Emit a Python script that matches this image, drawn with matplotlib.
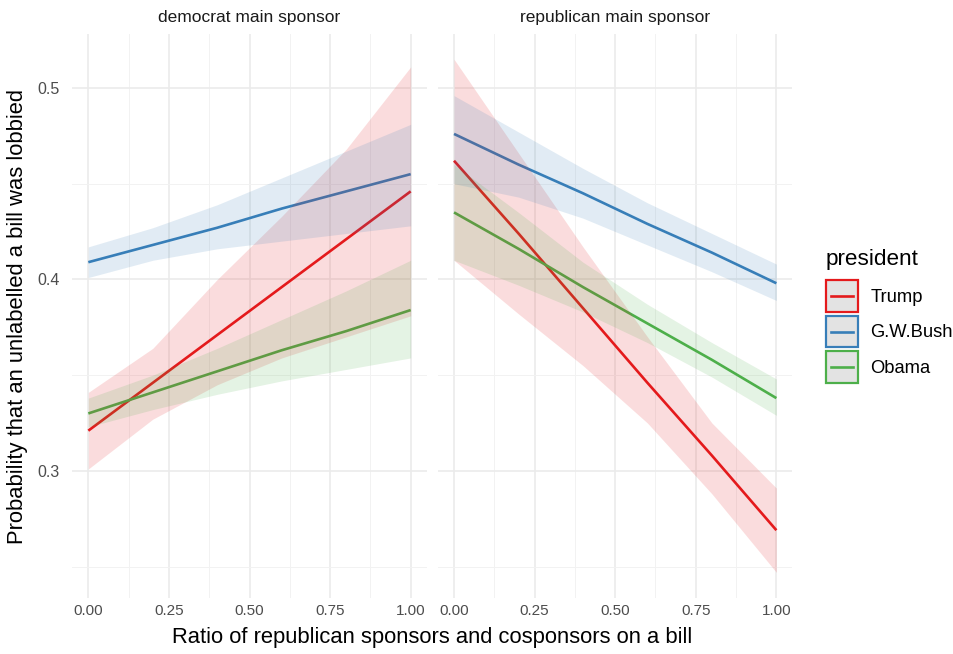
import matplotlib
matplotlib.use("Agg")
import matplotlib.pyplot as plt
from matplotlib.patches import Rectangle
from matplotlib.lines import Line2D
import numpy as np

plt.rcParams['font.family'] = ['Liberation Sans', 'DejaVu Sans']

x = [0.0, 0.2, 0.4, 0.6, 0.8, 1.0]
presidents = ["Trump", "G.W.Bush", "Obama"]
panels = ["democrat main sponsor", "republican main sponsor"]
colors = {"Trump": "#E41A1C", "G.W.Bush": "#377EB8", "Obama": "#4DAF4A"}

# democrat main sponsor
dem_trump_fit = [0.321, 0.346, 0.371, 0.396, 0.421, 0.446]
dem_trump_lo = [0.301, 0.327, 0.345, 0.359, 0.370, 0.381]
dem_trump_hi = [0.341, 0.364, 0.400, 0.433, 0.468, 0.511]
dem_bush_fit = [0.409, 0.418, 0.427, 0.437, 0.446, 0.455]
dem_bush_lo = [0.401, 0.410, 0.416, 0.420, 0.424, 0.428]
dem_bush_hi = [0.417, 0.427, 0.439, 0.453, 0.467, 0.481]
dem_obama_fit = [0.330, 0.341, 0.352, 0.363, 0.373, 0.384]
dem_obama_lo = [0.323, 0.332, 0.340, 0.347, 0.353, 0.359]
dem_obama_hi = [0.338, 0.350, 0.364, 0.379, 0.394, 0.410]

# republican main sponsor
rep_trump_fit = [0.462, 0.424, 0.385, 0.346, 0.308, 0.269]
rep_trump_lo = [0.410, 0.382, 0.355, 0.325, 0.288, 0.247]
rep_trump_hi = [0.515, 0.466, 0.417, 0.370, 0.325, 0.291]
rep_bush_fit = [0.476, 0.460, 0.445, 0.429, 0.414, 0.398]
rep_bush_lo = [0.450, 0.443, 0.432, 0.418, 0.404, 0.389]
rep_bush_hi = [0.496, 0.477, 0.458, 0.440, 0.424, 0.408]
rep_obama_fit = [0.435, 0.416, 0.396, 0.377, 0.358, 0.338]
rep_obama_lo = [0.410, 0.397, 0.383, 0.367, 0.349, 0.329]
rep_obama_hi = [0.460, 0.435, 0.409, 0.387, 0.367, 0.348]

data = {
    panels[0]: {
        "Trump": (dem_trump_fit, dem_trump_lo, dem_trump_hi),
        "G.W.Bush": (dem_bush_fit, dem_bush_lo, dem_bush_hi),
        "Obama": (dem_obama_fit, dem_obama_lo, dem_obama_hi),
    },
    panels[1]: {
        "Trump": (rep_trump_fit, rep_trump_lo, rep_trump_hi),
        "G.W.Bush": (rep_bush_fit, rep_bush_lo, rep_bush_hi),
        "Obama": (rep_obama_fit, rep_obama_lo, rep_obama_hi),
    },
}

xticks = [0.0, 0.25, 0.5, 0.75, 1.0]
xticklabels = ["0.00", "0.25", "0.50", "0.75", "1.00"]
yticks = [0.3, 0.4, 0.5]
yticklabels = ["0.3", "0.4", "0.5"]

W, H = 954, 654
fig = plt.figure(figsize=(W / 100, H / 100), dpi=100)
fig.patch.set_facecolor("white")

panel_left_px = [72.2, 437.9]
panel_w_px = 354.6
top_px, bot_px = 33.6, 598.0

axes = []
for i, p in enumerate(panels):
    ax = fig.add_axes([panel_left_px[i] / W, 1 - bot_px / H, panel_w_px / W, (bot_px - top_px) / H])
    axes.append(ax)
    for s in ax.spines.values():
        s.set_visible(False)
    ax.set_xlim(-0.05, 1.05)
    ax.set_ylim(0.2336, 0.5284)
    ax.set_xticks(xticks)
    ax.set_xticklabels(xticklabels)
    ax.set_xticks([0.125, 0.375, 0.625, 0.875], minor=True)
    ax.set_yticks(yticks)
    ax.set_yticks([0.25, 0.35, 0.45], minor=True)
    if i == 0:
        ax.set_yticklabels(yticklabels)
    else:
        ax.set_yticklabels([])
    ax.tick_params(which="both", length=0)
    ax.tick_params(axis="x", pad=4, labelsize=11, labelcolor="#4D4D4D")
    ax.tick_params(axis="y", pad=9, labelsize=11.5, labelcolor="#4D4D4D")
    ax.grid(which="major", color="#EBEBEB", linewidth=1.2, zorder=0)
    ax.grid(which="minor", color="#F2F2F2", linewidth=0.7, zorder=0)
    ax.set_axisbelow(True)
    for pres in presidents:
        fit, lo, hi = data[p][pres]
        ax.plot(x, fit, color=colors[pres], linewidth=1.9, zorder=2, solid_capstyle="butt")
    for pres in presidents:
        fit, lo, hi = data[p][pres]
        ax.fill_between(x, lo, hi, color=colors[pres], alpha=0.15, linewidth=0, zorder=3)
    ax.set_title(p, fontsize=12.5, color="#1A1A1A", pad=8)

fig.text((72.2 + 792.5) / 2 / W, 1 - 637 / H, "Ratio of republican sponsors and cosponsors on a bill",
         ha="center", va="center", fontsize=15.8, color="black")
fig.text(18 / W, 1 - 316 / H, "Probability that an unlabelled a bill was lobbied",
         ha="center", va="center", rotation=90, fontsize=15.8, color="black")

fig.text(826 / W, 1 - 260 / H, "president", ha="left", va="center", fontsize=16.2, color="black")


class KeyHandler:
    def legend_artist(self, legend, orig_handle, fontsize, handlebox):
        x0, y0 = handlebox.xdescent, handlebox.ydescent
        w, h = handlebox.width, handlebox.height
        c = orig_handle.get_color()
        rect = Rectangle((-x0, -y0), w, h, facecolor="#E3E3E3", edgecolor=c, linewidth=1.6,
                         transform=handlebox.get_transform())
        ln = Line2D([-x0 + 0.15 * w, -x0 + 0.85 * w], [-y0 + h / 2, -y0 + h / 2], color=c,
                    linewidth=1.9, transform=handlebox.get_transform())
        handlebox.add_artist(rect)
        handlebox.add_artist(ln)
        return rect


handles = [Line2D([], [], color=colors[pres]) for pres in presidents]
leg = fig.legend(handles, presidents, handler_map={Line2D: KeyHandler()},
                 loc="upper left", bbox_to_anchor=(826 / W, 1 - 280 / H),
                 frameon=False, fontsize=13.2,
                 handlelength=1.73, handleheight=2.3, labelspacing=0.2, handletextpad=0.7,
                 borderaxespad=0, borderpad=0)

fig.savefig("out.png", dpi=100, facecolor="white")
